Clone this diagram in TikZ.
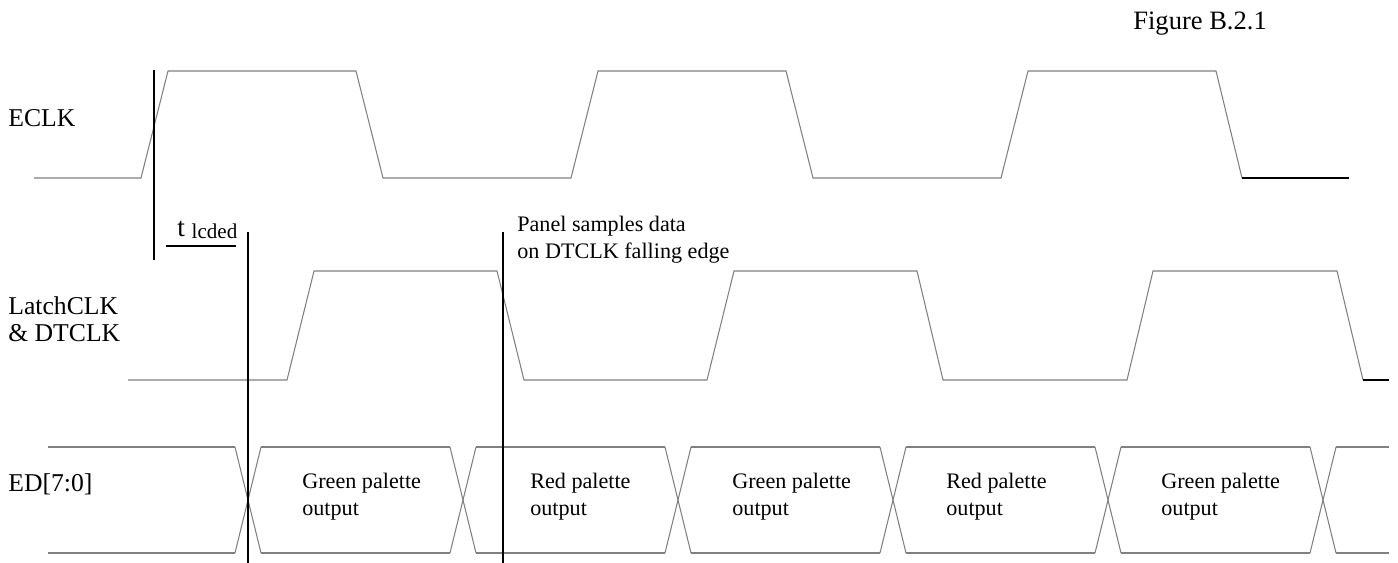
\documentclass[tikz,border=0pt]{standalone}
\usepackage{fontspec}
\setmainfont{Liberation Serif}
\usetikzlibrary{positioning}
\tikzset{
    wave/.style={black!50, line width=0.6pt},
    edge marker/.style={black, line width=0.6pt},
    sig label/.style={anchor=west, inner sep=0pt, align=left,
        font=\fontsize{14.6}{15.4}\selectfont},
    data label/.style={anchor=west, inner sep=0pt, align=left,
        font=\fontsize{12.6}{15.3}\selectfont},
}

\begin{document}
\begin{tikzpicture}[x=0.02cm, y=-0.02cm]
\useasboundingbox (0,0) rectangle (1398,563);

% signal names
\node[sig label] (eclk) at (8,118) {ECLK};
\node[sig label] (latchclk) at (8,319) {LatchCLK\\\& DTCLK};
\node[sig label] (ed) at (8,484) {ED[7:0]};
\node[anchor=base west, inner sep=0pt, font=\fontsize{15.1}{16}\selectfont] (fig) at (1133,30) {Figure B.2.1};

% ECLK
\draw[wave] (34,178) -- (141,178) -- (168,71) -- (356,71) -- (383,178) -- (571,178) -- (598,71) -- (786,71) -- (813,178) -- (1001,178) -- (1028,71) -- (1216,71) -- (1242,178);
\draw[edge marker] (1242,178) -- (1349,178);

% LatchCLK & DTCLK
\draw[wave] (128,380) -- (287,380) -- (314,271) -- (497,271) -- (524,380) -- (707,380) -- (734,271) -- (917,271) -- (943,380) -- (1127,380) -- (1153,271) -- (1337,271) -- (1363,380);
\draw[edge marker] (1363,380) -- (1389,380);

% ED bus
\draw[wave] (48,447) -- (235,447);
\draw[wave] (48,553) -- (235,553);
\foreach \c in {248,463,678,893,1108,1323}{
    \draw[wave] (\c-13,447) -- (\c+13,553);
    \draw[wave] (\c-13,553) -- (\c+13,447);
}
\foreach \a/\b in {261/450,476/665,691/880,906/1095,1121/1310,1336/1389}{
    \draw[wave] (\a,447) -- (\b,447);
    \draw[wave] (\a,553) -- (\b,553);
}
\node[data label] (d1) at (302,497) {Green palette\\output};
\node[data label] (d2) at (530,497) {Red palette\\output};
\node[data label] (d3) at (732,497) {Green palette\\output};
\node[data label] (d4) at (946,497) {Red palette\\output};
\node[data label] (d5) at (1161,497) {Green palette\\output};

% timing marks
\draw[edge marker] (154,70) -- (154,260);
\draw[edge marker] (248,232) -- (248,563);
\draw[edge marker] (503,232) -- (503,563);
\node[anchor=base west, inner sep=0pt, font=\fontsize{15.5}{16}\selectfont] (tlcded) at (177,237) {t {\fontsize{12}{13}\selectfont\raisebox{-1pt}{lcded}}};
\draw[edge marker] (166,246) -- (236,246);
\node[data label] (sample) at (517,240) {Panel samples data\\on DTCLK falling edge};
\end{tikzpicture}
\end{document}
